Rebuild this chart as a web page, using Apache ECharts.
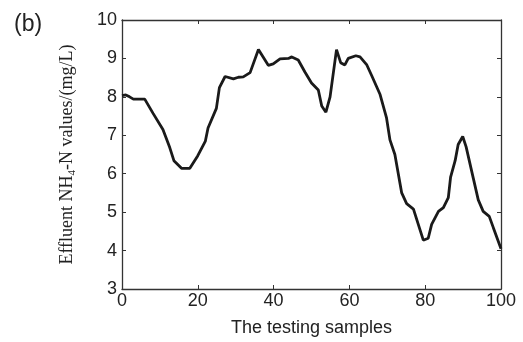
<!DOCTYPE html>
<html>
<head>
<meta charset="utf-8">
<script src="https://cdn.jsdelivr.net/npm/echarts@6/dist/echarts.min.js"></script>
<style>
  html, body { margin: 0; padding: 0; background: #fff; }
  #chart { width: 523px; height: 342px; }
</style>
</head>
<body>
<div id="chart"></div>
<script>
// Sample index of each polyline vertex
const sampleIdx = [
  0, 1, 2, 3, 6, 8.2, 10.8, 12.6, 13.7, 15.7, 17.9, 20, 22, 22.7, 24.9, 25.7,
  27.2, 29.4, 30.7, 32, 33.8, 36, 38.6, 39.9, 41.7, 43.9, 44.8, 46.5, 48.3, 50,
  51.8, 52.7, 53.8, 54.9, 56.6, 57.7, 58.8, 59.7, 61.7, 62.8, 64.6, 65.9, 68.1,
  69.8, 70.7, 72, 73.8, 75.1, 76.9, 79.5, 80.8, 81.7, 83.5, 84.8, 86.1, 86.7,
  87.9, 88.7, 89.9, 90.8, 92.7, 94, 95.3, 96.9, 98, 100
];
// Effluent NH4-N values (mg/L)
const nh4Values = [
  8.03, 8.05, 8.0, 7.94, 7.94, 7.57, 7.15, 6.68, 6.34, 6.14, 6.14, 6.47, 6.85, 7.19, 7.70, 8.24,
  8.53, 8.47, 8.51, 8.52, 8.63, 9.23, 8.82, 8.86, 8.99, 9.0, 9.04, 8.96, 8.64, 8.36,
  8.18, 7.76, 7.6, 8.0, 9.23, 8.89, 8.83, 9.0, 9.07, 9.04, 8.83, 8.55, 8.06,
  7.45, 6.88, 6.5, 5.5, 5.22, 5.08, 4.27, 4.32, 4.68, 5.02, 5.12, 5.38, 5.91,
  6.34, 6.76, 6.97, 6.70, 5.88, 5.32, 5.02, 4.89, 4.59, 4.05
];
const xTicks = [0, 20, 40, 60, 80, 100];
const yTicks = [3, 4, 5, 6, 7, 8, 9, 10];

const axisColor = '#333';
const labelFont = { fontFamily: 'Liberation Sans, Arial, sans-serif', fontSize: 18, color: '#222' };

const points = sampleIdx.map((x, i) => [x, nh4Values[i]]);

const boxAxis = (extra) => Object.assign({
  type: 'value',
  axisLine: { show: true, onZero: false, lineStyle: { color: axisColor, width: 1.3 } },
  axisTick: { show: true, inside: true, length: 4, lineStyle: { color: axisColor, width: 1 } },
  splitLine: { show: false }
}, extra);

const chart = echarts.init(document.getElementById('chart'), null, { renderer: 'canvas' });
chart.setOption({
  animation: false,
  backgroundColor: '#fff',
  grid: { left: 122, right: 22, top: 20, bottom: 48, containLabel: false },
  xAxis: [
    boxAxis({
      min: xTicks[0], max: xTicks[xTicks.length - 1], interval: 20,
      position: 'bottom',
      axisLabel: Object.assign({ margin: 3 }, labelFont),
      name: 'The testing samples',
      nameLocation: 'middle',
      nameGap: 30,
      nameTextStyle: { fontFamily: 'Liberation Sans, Arial, sans-serif', fontSize: 18, color: '#222' }
    }),
    boxAxis({
      min: xTicks[0], max: xTicks[xTicks.length - 1], interval: 20,
      position: 'top',
      axisLabel: { show: false }
    })
  ],
  yAxis: [
    boxAxis({
      min: yTicks[0], max: yTicks[yTicks.length - 1], interval: 1,
      position: 'left',
      axisLabel: Object.assign({ margin: 5 }, labelFont),
      name: '{t|Effluent NH}{s|4}{t|-N values/(mg/L)}',
      nameLocation: 'middle',
      nameRotate: 90,
      nameGap: 44,
      nameTextStyle: {
        rich: {
          t: { fontFamily: 'Liberation Serif, Times New Roman, serif', fontSize: 18, lineHeight: 22, color: '#222' },
          s: { fontFamily: 'Liberation Serif, Times New Roman, serif', fontSize: 11, lineHeight: 11, verticalAlign: 'bottom', color: '#222' }
        }
      }
    }),
    boxAxis({
      min: yTicks[0], max: yTicks[yTicks.length - 1], interval: 1,
      position: 'right',
      axisLabel: { show: false }
    })
  ],
  graphic: [{
    type: 'text',
    left: 14,
    top: 13,
    style: { text: '(b)', fontFamily: 'Liberation Sans, Arial, sans-serif', fontSize: 23, fill: '#222' }
  }],
  series: [{
    type: 'line',
    data: points,
    showSymbol: false,
    lineStyle: { color: '#1a1a1a', width: 2.8 },
    clip: true
  }]
});
</script>
</body>
</html>
